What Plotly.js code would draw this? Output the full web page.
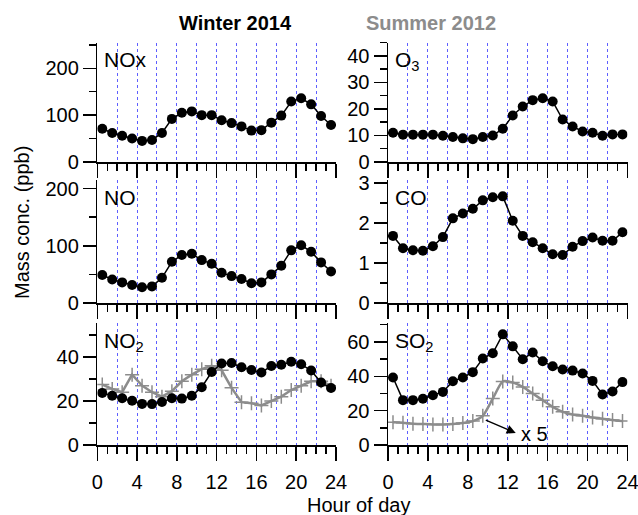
<!DOCTYPE html>
<html><head><meta charset="utf-8">
<script src="https://cdn.plot.ly/plotly-3.0.1.min.js"></script>
<style>html,body{margin:0;padding:0;background:#fff}#chart{width:638px;height:515px}</style>
</head><body><div id="chart"></div>
<script>
const hours = [0.5,1.5,2.5,3.5,4.5,5.5,6.5,7.5,8.5,9.5,10.5,11.5,12.5,13.5,14.5,15.5,16.5,17.5,18.5,19.5,20.5,21.5,22.5,23.5];
const noxWinter = [71,62,56,50,45,47,62,92,105,108,100,100,89,83,76,67,68,84,99,129,136,123,98,79];
const o3Summer = [11,10.3,10.3,10.3,10.3,9.9,9.4,8.9,8.6,9.4,10,12.5,17.5,20.9,23.3,24,22.8,16,13.4,11.5,11,9.9,10.4,10.4];
const noWinter = [49,41,36,31.5,27.5,29,44,72,84,86,75,68.5,53,47,42,34.5,36,50,65,92,101,89.5,71,55];
const coSummer = [1.68,1.37,1.32,1.31,1.42,1.65,2.12,2.24,2.36,2.57,2.65,2.67,2.06,1.68,1.52,1.37,1.22,1.2,1.41,1.55,1.64,1.56,1.56,1.77];
const no2Winter = [23.7,22.4,21.3,20.1,18.7,18.6,19.6,21.3,21.1,22.4,26.3,33.2,37.1,37.3,35.4,34.1,33,35.9,36.5,37.9,36.7,33.9,28.4,25.9];
const no2Summer = [27.5,25.5,24,32,27,24,22,24.5,29,32,34.5,36,34,26,19.5,19,18,20,22,25,27,29,29,27];
const so2Winter = [39.3,26.1,26.1,26.9,29,30.9,37.1,39.3,42.4,50.3,53.4,64.4,57.4,49.9,53.8,48.7,45.8,43.9,43.3,41.6,37.3,29.4,31.1,36.6];
const so2SummerX5 = [13.2,13,12.4,12.2,12,12,12.2,12.8,13.9,17,27,37,36.4,33.8,30,26,22.2,19.3,17.8,17,16,15.3,14.5,13.9];
const panelLabels = ['NOx','O<sub>3</sub>','NO','CO','NO<sub>2</sub>','SO<sub>2</sub>'];
const yRanges = [[0,255],[0,45],[0,215],[0,3.08],[0,55.5],[0,71]];
const yDticks = [100,10,100,1,20,20];
const yMinor = [50,5,50,0.5,10,10];
const xTicks = [0,4,8,12,16,20,24];
const gridHours = [0,2,4,6,8,10,12,14,16,18,20,22,24];

const W=638,H=515;
const fx=px=>px/W, fy=px=>1-px/H;
const xL=[fx(97.3),fx(336)], xR=[fx(388),fx(627.5)];
const rows=[[42.5,162],[180,303],[323,445]];
const FONT='"Liberation Sans", Arial, sans-serif';
const blk='#000', gray='#8c8c8c';
const gridCol='rgb(95,95,255)';

function winter(x,y,n){return {x:x,y:y,xaxis:'x'+(n>1?n:''),yaxis:'y'+(n>1?n:''),mode:'lines+markers',
  line:{color:blk,width:1.5},marker:{color:blk,size:10},showlegend:false,hoverinfo:'skip'};}
function summer(x,y,n,shape){return {x:x,y:y,xaxis:'x'+n,yaxis:'y'+n,mode:'lines+markers',
  line:{color:gray,width:2.5,shape:shape||'linear',smoothing:0.6},
  marker:{symbol:'cross-thin',size:10,color:gray,line:{color:gray,width:1.5}},showlegend:false,hoverinfo:'skip'};}

const data=[];
for(let i=1;i<=6;i++){data.push({x:[],y:[],xaxis:'x'+(i+6),yaxis:'y'+(i>1?i:''),mode:'markers',showlegend:false});}
data.push(
  winter(hours,noxWinter,1),
  winter(hours,o3Summer,2),
  winter(hours,noWinter,3),
  winter(hours,coSummer,4),
  summer(hours,no2Summer,5),
  winter(hours,no2Winter,5),
  summer(hours,so2SummerX5,6,'spline'),
  winter(hours,so2Winter,6)
);

const layout={width:W,height:H,margin:{l:0,r:0,t:0,b:0},paper_bgcolor:'#fff',plot_bgcolor:'rgba(0,0,0,0)',
  font:{family:FONT,size:20,color:blk},showlegend:false,annotations:[]};

for(let i=1;i<=6;i++){
  const col=(i%2===1)?xL:xR;
  const r=rows[Math.floor((i-1)/2)];
  const xs=(i>1?i:''), ys=(i>1?i:'');
  layout['xaxis'+xs]={domain:col,anchor:'y'+ys,range:[0,24],tickmode:'array',tickvals:xTicks,ticktext:xTicks.map(String),
    ticks:'outside',ticklen:14,tickwidth:1.5,tickcolor:blk,showticklabels:(i>=5),ticklabeloverflow:'allow',
    ticklabelstandoff:4,tickfont:{size:20},
    showgrid:false,zeroline:false,showline:true,linecolor:blk,linewidth:1.5,
    minor:{tickmode:'linear',tick0:0,dtick:1,ticks:'outside',ticklen:7,tickwidth:1.5,tickcolor:blk,showgrid:false}};
  layout['xaxis'+(i+6)]={overlaying:'x'+xs,anchor:'y'+ys,range:[0,24],tickmode:'array',tickvals:gridHours,
    ticks:'',showticklabels:false,showgrid:true,gridcolor:gridCol,gridwidth:1,griddash:'dot',
    zeroline:false,showline:false,side:'bottom'};
  layout['yaxis'+ys]={domain:[fy(r[1]),fy(r[0])],anchor:'x'+xs,range:yRanges[i-1],tickmode:'linear',tick0:0,dtick:yDticks[i-1],
    ticks:'outside',ticklen:13,tickwidth:1.5,tickcolor:blk,showgrid:false,zeroline:false,
    showline:true,linecolor:blk,linewidth:1.5,tickfont:{size:20},
    minor:{tickmode:'linear',tick0:0,dtick:yMinor[i-1],ticks:'outside',ticklen:7,tickwidth:1.5,tickcolor:blk,showgrid:false}};
  layout.annotations.push({text:panelLabels[i-1],xref:'x'+xs+' domain',yref:'y'+ys+' domain',x:0.02,y:0.97,
    xanchor:'left',yanchor:'top',showarrow:false,font:{size:21,color:blk}});
}

layout.annotations.push(
  {text:'<b>Winter 2014</b>',xref:'paper',yref:'paper',x:fx(235),y:fy(23),xanchor:'center',yanchor:'middle',showarrow:false,font:{size:20,color:blk}},
  {text:'<b>Summer 2012</b>',xref:'paper',yref:'paper',x:fx(431),y:fy(23),xanchor:'center',yanchor:'middle',showarrow:false,font:{size:20,color:gray}},
  {text:'Hour of day',xref:'paper',yref:'paper',x:fx(358),y:fy(505),xanchor:'center',yanchor:'middle',showarrow:false,font:{size:20,color:blk}},
  {text:'Mass conc. (ppb)',xref:'paper',yref:'paper',x:fx(22),y:fy(223),xanchor:'center',yanchor:'middle',textangle:-90,showarrow:false,font:{size:20,color:blk}},
  {text:' ',xref:'x6',yref:'y6',x:12.8,y:7,axref:'x6',ayref:'y6',ax:9.6,ay:15,showarrow:true,arrowhead:2,arrowsize:1.2,arrowwidth:1.5,arrowcolor:blk,font:{size:2}},
  {text:'x 5',xref:'x6',yref:'y6',x:13.1,y:6.5,xanchor:'left',yanchor:'middle',showarrow:false,font:{size:20,color:blk}}
);

Plotly.newPlot('chart',data,layout,{staticPlot:true,displayModeBar:false});
</script></body></html>
